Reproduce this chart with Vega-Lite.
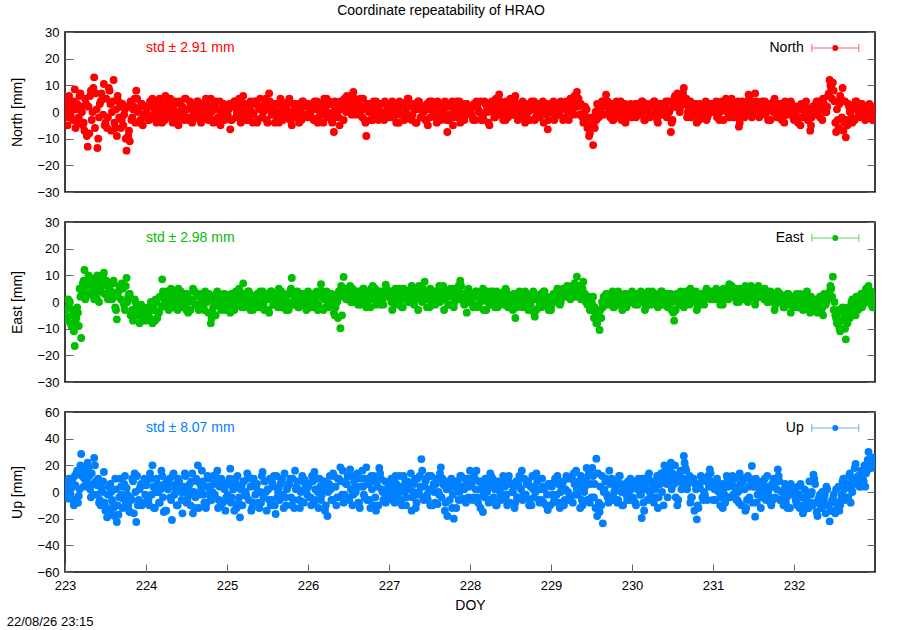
{
  "$schema": "https://vega.github.io/schema/vega-lite/v6.json",
  "padding": {"left": 5, "top": 4, "right": 0, "bottom": 0},
  "title": {"text": "Coordinate repeatability of HRAO", "fontSize": 14, "fontWeight": "normal", "anchor": "middle", "offset": 7},
  "data": {"values": [
    {"d":223.00,"n":5,"e":-5,"u":8},{"d":223.02,"n":0,"e":-7,"u":0},{"d":223.04,"n":-2,"e":1,"u":-5},{"d":223.06,"n":4,"e":0,"u":6},
    {"d":223.08,"n":3,"e":-9,"u":3},{"d":223.10,"n":-3,"e":-3,"u":-6},{"d":223.12,"n":8.5,"e":-16.5,"u":12},{"d":223.14,"n":1,"e":-6,"u":14},
    {"d":223.16,"n":-4,"e":-4,"u":-8},{"d":223.18,"n":6,"e":5,"u":2},{"d":223.20,"n":2,"e":-13.5,"u":28.5},{"d":223.22,"n":-5,"e":7,"u":18},
    {"d":223.24,"n":-7,"e":12,"u":10},{"d":223.26,"n":3,"e":2,"u":5},{"d":223.28,"n":-13,"e":3,"u":22},{"d":223.30,"n":-8,"e":9,"u":12},
    {"d":223.32,"n":8,"e":8,"u":-4},{"d":223.34,"n":0,"e":4,"u":-2},{"d":223.36,"n":13,"e":1,"u":25.5},{"d":223.38,"n":7,"e":6,"u":8},
    {"d":223.40,"n":-13.5,"e":10,"u":5},{"d":223.42,"n":-2,"e":0,"u":-8},{"d":223.44,"n":4,"e":4,"u":-10},{"d":223.46,"n":5,"e":8,"u":0},
    {"d":223.48,"n":10.5,"e":11,"u":15},{"d":223.50,"n":-4,"e":3,"u":-14},{"d":223.52,"n":-6,"e":6,"u":-19},{"d":223.54,"n":9,"e":5,"u":4},
    {"d":223.56,"n":3,"e":2,"u":6},{"d":223.58,"n":0,"e":1,"u":-6},{"d":223.60,"n":12,"e":8,"u":-12},{"d":223.62,"n":-6,"e":-2,"u":10},
    {"d":223.64,"n":-9,"e":-6.5,"u":-22.5},{"d":223.66,"n":4,"e":4,"u":-17},{"d":223.68,"n":2,"e":5,"u":10},{"d":223.70,"n":-3,"e":7,"u":-2},
    {"d":223.72,"n":-5,"e":0,"u":-5},{"d":223.74,"n":1,"e":-3,"u":12},{"d":223.76,"n":-14.5,"e":9,"u":3},{"d":223.78,"n":-9,"e":2,"u":-10},
    {"d":223.80,"n":-11,"e":3,"u":-15},{"d":223.84,"n":1,"e":-7,"u":8},{"d":223.88,"n":8,"e":-2,"u":-22.5},{"d":223.92,"n":-4,"e":-8,"u":2},
    {"d":223.96,"n":-5,"e":-4,"u":-8},
    {"d":224.00,"n":2,"e":-7,"u":5},{"d":224.04,"n":-3,"e":-2,"u":-10},{"d":224.08,"n":5,"e":-8,"u":20},{"d":224.12,"n":-1,"e":1,"u":0},
    {"d":224.16,"n":3,"e":-4,"u":-8},{"d":224.20,"n":-4,"e":8.5,"u":12},{"d":224.24,"n":6,"e":2,"u":-14},{"d":224.28,"n":0,"e":-3,"u":6},
    {"d":224.32,"n":-2,"e":4,"u":-21},{"d":224.36,"n":4,"e":0,"u":3},{"d":224.40,"n":-5,"e":5,"u":10},{"d":224.44,"n":1,"e":-2,"u":-6},
    {"d":224.48,"n":5,"e":3,"u":14},{"d":224.52,"n":-3,"e":-4,"u":-3},{"d":224.56,"n":2,"e":1,"u":8},{"d":224.60,"n":-1,"e":4,"u":-12},
    {"d":224.64,"n":4,"e":-1,"u":20},{"d":224.68,"n":-4,"e":3,"u":2},{"d":224.72,"n":3,"e":-3,"u":-8},{"d":224.76,"n":0,"e":2,"u":12},
    {"d":224.80,"n":5,"e":-8,"u":-4},{"d":224.84,"n":-3,"e":0,"u":6},{"d":224.88,"n":1,"e":4,"u":16},{"d":224.92,"n":-5,"e":-2,"u":-10},
    {"d":224.96,"n":3,"e":3,"u":3},
    {"d":225.00,"n":-2,"e":1,"u":-6},{"d":225.04,"n":-6.5,"e":-4,"u":17.5},{"d":225.08,"n":3,"e":3,"u":2},{"d":225.12,"n":0,"e":-1,"u":-12},
    {"d":225.16,"n":4,"e":4,"u":-19},{"d":225.20,"n":6,"e":7,"u":8},{"d":225.24,"n":-3,"e":0,"u":-3},{"d":225.28,"n":2,"e":3,"u":10},
    {"d":225.32,"n":-4,"e":-3,"u":-8},{"d":225.36,"n":4,"e":2,"u":4},{"d":225.40,"n":1,"e":-1,"u":-12},{"d":225.44,"n":-2,"e":4,"u":15},
    {"d":225.48,"n":5,"e":1,"u":0},{"d":225.52,"n":7,"e":-4,"u":-6},{"d":225.56,"n":-1,"e":3,"u":7},{"d":225.60,"n":3,"e":0,"u":-16.5},
    {"d":225.64,"n":-4,"e":5,"u":3},{"d":225.68,"n":2,"e":-2,"u":10},{"d":225.72,"n":-2,"e":2,"u":-4},{"d":225.76,"n":4,"e":-3,"u":6},
    {"d":225.80,"n":-5,"e":9,"u":-10},{"d":225.84,"n":1,"e":1,"u":16},{"d":225.88,"n":3,"e":-2,"u":2},{"d":225.92,"n":-3,"e":3,"u":-7},
    {"d":225.96,"n":2,"e":-1,"u":9},
    {"d":226.00,"n":3,"e":4,"u":4},{"d":226.04,"n":-2,"e":-2,"u":-10},{"d":226.08,"n":4,"e":2,"u":15},{"d":226.12,"n":-4,"e":-3,"u":0},
    {"d":226.16,"n":1,"e":6.7,"u":-6},{"d":226.20,"n":5,"e":1,"u":8},{"d":226.24,"n":-2,"e":-1,"u":-18},{"d":226.28,"n":3,"e":3,"u":2},
    {"d":226.32,"n":-7.5,"e":-4,"u":12},{"d":226.36,"n":0,"e":0,"u":-4},{"d":226.40,"n":4,"e":-9.8,"u":18.5},{"d":226.44,"n":-3,"e":9.4,"u":-8},
    {"d":226.48,"n":6,"e":3,"u":6},{"d":226.52,"n":2,"e":6,"u":17},{"d":226.56,"n":7.5,"e":0,"u":-2},{"d":226.60,"n":3,"e":4,"u":10},
    {"d":226.64,"n":-1,"e":1,"u":-12},{"d":226.68,"n":5,"e":5,"u":4},{"d":226.72,"n":-9,"e":-2,"u":18.5},{"d":226.76,"n":2,"e":3,"u":-6},
    {"d":226.80,"n":-3,"e":6,"u":8},{"d":226.84,"n":4,"e":-1,"u":-14},{"d":226.88,"n":0,"e":4,"u":18},{"d":226.92,"n":-2,"e":1,"u":0},
    {"d":226.96,"n":3,"e":6.5,"u":-8},
    {"d":227.00,"n":-2,"e":2,"u":6},{"d":227.04,"n":4,"e":-3,"u":-6},{"d":227.08,"n":0,"e":5,"u":12},{"d":227.12,"n":-4,"e":1,"u":0},
    {"d":227.16,"n":3,"e":-2,"u":-10},{"d":227.20,"n":-1,"e":4,"u":8},{"d":227.24,"n":5,"e":0,"u":2},{"d":227.28,"n":-3,"e":6,"u":-14},
    {"d":227.32,"n":1,"e":2,"u":10},{"d":227.36,"n":4,"e":-3,"u":-2},{"d":227.40,"n":-2,"e":3,"u":24.7},{"d":227.44,"n":2,"e":7.6,"u":4},
    {"d":227.48,"n":-5,"e":1,"u":-6},{"d":227.52,"n":3,"e":-1,"u":12},{"d":227.56,"n":0,"e":4,"u":0},{"d":227.60,"n":4,"e":0,"u":-9},
    {"d":227.64,"n":-3,"e":5,"u":18.5},{"d":227.68,"n":1,"e":-3,"u":5},{"d":227.72,"n":-7.5,"e":2,"u":-18},{"d":227.76,"n":2,"e":5,"u":7},
    {"d":227.80,"n":-2,"e":-2,"u":-20},{"d":227.84,"n":4,"e":3,"u":3},{"d":227.88,"n":-4,"e":8,"u":12},{"d":227.92,"n":1,"e":0,"u":-5},
    {"d":227.96,"n":3,"e":-4,"u":8},
    {"d":228.00,"n":2,"e":3,"u":16},{"d":228.04,"n":-3,"e":-2,"u":-4},{"d":228.08,"n":4,"e":4,"u":16},{"d":228.12,"n":0,"e":0,"u":2},
    {"d":228.16,"n":-2,"e":5,"u":-15},{"d":228.20,"n":3,"e":-3,"u":6},{"d":228.24,"n":-5,"e":2,"u":-6},{"d":228.28,"n":2,"e":4,"u":10},
    {"d":228.32,"n":5,"e":-1,"u":-10},{"d":228.36,"n":6.6,"e":3,"u":3},{"d":228.40,"n":0,"e":0,"u":8},{"d":228.44,"n":-3,"e":5,"u":-5},
    {"d":228.48,"n":4,"e":-2,"u":12},{"d":228.52,"n":1,"e":2,"u":0},{"d":228.56,"n":6,"e":-6,"u":-8},{"d":228.60,"n":-2,"e":3,"u":5},
    {"d":228.64,"n":3,"e":0,"u":16},{"d":228.68,"n":-4,"e":4,"u":-3},{"d":228.72,"n":0,"e":-3,"u":8},{"d":228.76,"n":4,"e":1,"u":-10},
    {"d":228.80,"n":-3,"e":-5.5,"u":4},{"d":228.84,"n":2,"e":2,"u":10},{"d":228.88,"n":-1,"e":-2,"u":-6},{"d":228.92,"n":3,"e":4,"u":2},
    {"d":228.96,"n":-6.5,"e":0,"u":-13.5},
    {"d":229.00,"n":3,"e":-3,"u":6},{"d":229.04,"n":-3,"e":2,"u":-6},{"d":229.08,"n":1,"e":5,"u":12},{"d":229.12,"n":4,"e":0,"u":0},
    {"d":229.16,"n":-2,"e":3,"u":-10},{"d":229.20,"n":2,"e":6,"u":10},{"d":229.24,"n":5,"e":1,"u":-4},{"d":229.28,"n":-1,"e":4,"u":14},
    {"d":229.32,"n":7.5,"e":9.5,"u":2},{"d":229.36,"n":3,"e":3,"u":-12},{"d":229.40,"n":-4,"e":7.6,"u":8},{"d":229.44,"n":1,"e":0,"u":18},
    {"d":229.48,"n":-8,"e":-3,"u":-8},{"d":229.52,"n":-12.4,"e":2,"u":12},{"d":229.56,"n":-3,"e":-8,"u":25},{"d":229.60,"n":2,"e":-10.5,"u":-15},
    {"d":229.64,"n":4,"e":-2,"u":-23.5},{"d":229.68,"n":6.5,"e":3,"u":10},{"d":229.72,"n":0,"e":-1,"u":16},{"d":229.76,"n":-3,"e":4,"u":-6},
    {"d":229.80,"n":3,"e":0,"u":4},{"d":229.84,"n":-1,"e":2,"u":12},{"d":229.88,"n":2,"e":-3,"u":-10},{"d":229.92,"n":-4,"e":3,"u":6},
    {"d":229.96,"n":1,"e":1,"u":-2},
    {"d":230.00,"n":-2,"e":4,"u":5},{"d":230.04,"n":3,"e":-1,"u":-8},{"d":230.08,"n":0,"e":3,"u":10},{"d":230.12,"n":4,"e":1,"u":-19.5},
    {"d":230.16,"n":-3,"e":-3,"u":2},{"d":230.20,"n":2,"e":4,"u":12},{"d":230.24,"n":-1,"e":0,"u":-6},{"d":230.28,"n":4,"e":2,"u":8},
    {"d":230.32,"n":-4,"e":-2,"u":-12},{"d":230.36,"n":1,"e":4,"u":14},{"d":230.40,"n":3,"e":1,"u":20},{"d":230.44,"n":-2,"e":-2,"u":-4},
    {"d":230.48,"n":-7.5,"e":3,"u":22},{"d":230.52,"n":5,"e":-7,"u":6},{"d":230.56,"n":7,"e":0,"u":-10},{"d":230.60,"n":2,"e":4,"u":16},
    {"d":230.64,"n":9,"e":-2,"u":27},{"d":230.68,"n":-2,"e":2,"u":2},{"d":230.72,"n":4,"e":5,"u":-8},{"d":230.76,"n":0,"e":1,"u":10},
    {"d":230.80,"n":-4,"e":-3,"u":-20.5},{"d":230.84,"n":3,"e":3,"u":3},{"d":230.88,"n":1,"e":0,"u":-6},{"d":230.92,"n":-3,"e":5,"u":8},
    {"d":230.96,"n":2,"e":2,"u":17},
    {"d":231.00,"n":0,"e":1,"u":-6},{"d":231.04,"n":4,"e":5,"u":8},{"d":231.08,"n":-3,"e":2,"u":0},{"d":231.12,"n":2,"e":-1,"u":-12},
    {"d":231.16,"n":5,"e":4,"u":6},{"d":231.20,"n":-2,"e":6.7,"u":-4},{"d":231.24,"n":3,"e":2,"u":12},{"d":231.28,"n":0,"e":5,"u":2},
    {"d":231.32,"n":-5.5,"e":0,"u":-8},{"d":231.36,"n":4,"e":3,"u":10},{"d":231.40,"n":1,"e":6,"u":-14},{"d":231.44,"n":6.5,"e":1,"u":4},
    {"d":231.48,"n":-2,"e":4,"u":19.5},{"d":231.52,"n":7,"e":-1,"u":-18.5},{"d":231.56,"n":3,"e":6,"u":6},{"d":231.60,"n":-1,"e":3,"u":-4},
    {"d":231.64,"n":4,"e":5,"u":10},{"d":231.68,"n":-3,"e":0,"u":0},{"d":231.72,"n":2,"e":2,"u":-10},{"d":231.76,"n":5,"e":-3,"u":4},
    {"d":231.80,"n":-2,"e":4,"u":17},{"d":231.84,"n":3,"e":1,"u":-6},{"d":231.88,"n":-4,"e":-2,"u":2},{"d":231.92,"n":1,"e":3,"u":-12},
    {"d":231.96,"n":4,"e":-4,"u":6},
    {"d":232.00,"n":-3,"e":2,"u":2},{"d":232.04,"n":2,"e":-2,"u":-10},{"d":232.08,"n":-5,"e":3,"u":6},{"d":232.12,"n":3,"e":0,"u":-14},
    {"d":232.16,"n":-1,"e":4,"u":0},{"d":232.20,"n":-7,"e":-4,"u":-8},{"d":232.24,"n":2,"e":1,"u":13},{"d":232.28,"n":4,"e":-3,"u":-15},
    {"d":232.32,"n":-2,"e":2,"u":-2},{"d":232.36,"n":5,"e":-5,"u":-10},{"d":232.40,"n":0,"e":0,"u":4},{"d":232.44,"n":12,"e":4,"u":-22},
    {"d":232.48,"n":11,"e":9.5,"u":-6},{"d":232.52,"n":-7.5,"e":-6,"u":2},{"d":232.56,"n":3,"e":-9.7,"u":-14},{"d":232.60,"n":9,"e":-2,"u":8},
    {"d":232.64,"n":-9.5,"e":-14,"u":-4},{"d":232.68,"n":2,"e":-4,"u":12},{"d":232.72,"n":-4,"e":1,"u":0},{"d":232.76,"n":4,"e":-5,"u":21},
    {"d":232.80,"n":-1,"e":2,"u":6},{"d":232.84,"n":3,"e":-2,"u":14},{"d":232.88,"n":-3,"e":4,"u":4},{"d":232.92,"n":2,"e":6,"u":30},
    {"d":232.96,"n":-1,"e":-1,"u":18},
    {"d":223.82,"n":-3,"e":-5,"u":-6},{"d":223.86,"n":5,"e":1,"u":14},{"d":223.90,"n":0,"e":-4,"u":-10},{"d":223.94,"n":3,"e":-1,"u":6},{"d":223.98,"n":-2,"e":-6,"u":10},
    {"d":224.02,"n":-1,"e":-5,"u":-3},{"d":224.06,"n":2,"e":0,"u":10},{"d":224.10,"n":4,"e":-3,"u":-12},{"d":224.14,"n":-3,"e":-6,"u":6},
    {"d":224.18,"n":0,"e":2,"u":2},{"d":224.22,"n":3,"e":-1,"u":-15},{"d":224.26,"n":-2,"e":4,"u":8},{"d":224.30,"n":5,"e":1,"u":-4},
    {"d":224.34,"n":1,"e":-2,"u":14},{"d":224.38,"n":-4,"e":2,"u":-10},{"d":224.42,"n":3,"e":3,"u":4},{"d":224.46,"n":0,"e":0,"u":0},
    {"d":224.50,"n":-2,"e":-3,"u":-8},{"d":224.54,"n":4,"e":1,"u":6},{"d":224.58,"n":-3,"e":5,"u":-16},{"d":224.62,"n":1,"e":-1,"u":10},
    {"d":224.66,"n":2,"e":2,"u":-2},{"d":224.70,"n":-1,"e":-2,"u":8},{"d":224.74,"n":5,"e":0,"u":-12},{"d":224.78,"n":-2,"e":3,"u":4},
    {"d":224.82,"n":2,"e":-4,"u":0},{"d":224.86,"n":4,"e":-5,"u":12},{"d":224.90,"n":-4,"e":1,"u":-6},{"d":224.94,"n":0,"e":2,"u":8},
    {"d":224.98,"n":-1,"e":-3,"u":-14},
    {"d":225.02,"n":1,"e":-2,"u":6},{"d":225.06,"n":-3,"e":2,"u":-4},{"d":225.10,"n":4,"e":0,"u":10},{"d":225.14,"n":2,"e":3,"u":-8},
    {"d":225.18,"n":-2,"e":-2,"u":4},{"d":225.22,"n":3,"e":1,"u":-2},{"d":225.26,"n":0,"e":4,"u":12},{"d":225.30,"n":-1,"e":-1,"u":-14},
    {"d":225.34,"n":4,"e":2,"u":6},{"d":225.38,"n":-3,"e":0,"u":0},{"d":225.42,"n":2,"e":3,"u":-8},{"d":225.46,"n":1,"e":-3,"u":8},
    {"d":225.50,"n":-4,"e":1,"u":2},{"d":225.54,"n":3,"e":4,"u":-10},{"d":225.58,"n":0,"e":-1,"u":12},{"d":225.62,"n":-2,"e":2,"u":-4},
    {"d":225.66,"n":5,"e":-2,"u":6},{"d":225.70,"n":-1,"e":3,"u":-12},{"d":225.74,"n":1,"e":0,"u":2},{"d":225.78,"n":-3,"e":4,"u":10},
    {"d":225.82,"n":3,"e":-1,"u":-6},{"d":225.86,"n":0,"e":3,"u":4},{"d":225.90,"n":-2,"e":0,"u":-12},{"d":225.94,"n":4,"e":2,"u":8},
    {"d":225.98,"n":-1,"e":-3,"u":0},
    {"d":226.02,"n":0,"e":0,"u":-4},{"d":226.06,"n":2,"e":3,"u":8},{"d":226.10,"n":-3,"e":-1,"u":-6},{"d":226.14,"n":3,"e":2,"u":10},
    {"d":226.18,"n":-1,"e":4,"u":2},{"d":226.22,"n":1,"e":-2,"u":-10},{"d":226.26,"n":4,"e":3,"u":6},{"d":226.30,"n":-4,"e":0,"u":-6},
    {"d":226.34,"n":2,"e":-2,"u":4},{"d":226.38,"n":-2,"e":4,"u":10},{"d":226.42,"n":3,"e":-5,"u":-2},{"d":226.46,"n":1,"e":5,"u":8},
    {"d":226.50,"n":4,"e":1,"u":-4},{"d":226.54,"n":-1,"e":4,"u":12},{"d":226.58,"n":5,"e":2,"u":4},{"d":226.62,"n":0,"e":-1,"u":-8},
    {"d":226.66,"n":2,"e":4,"u":10},{"d":226.70,"n":-3,"e":2,"u":-4},{"d":226.74,"n":3,"e":0,"u":6},{"d":226.78,"n":0,"e":5,"u":12},
    {"d":226.82,"n":1,"e":1,"u":-10},{"d":226.86,"n":-2,"e":3,"u":4},{"d":226.90,"n":3,"e":-1,"u":10},{"d":226.94,"n":-3,"e":4,"u":-6},
    {"d":226.98,"n":1,"e":3,"u":2},
    {"d":227.02,"n":1,"e":4,"u":-2},{"d":227.06,"n":-2,"e":1,"u":8},{"d":227.10,"n":3,"e":3,"u":-6},{"d":227.14,"n":-1,"e":-1,"u":4},
    {"d":227.18,"n":2,"e":5,"u":12},{"d":227.22,"n":4,"e":2,"u":-4},{"d":227.26,"n":-2,"e":3,"u":6},{"d":227.30,"n":2,"e":0,"u":0},
    {"d":227.34,"n":-4,"e":4,"u":-8},{"d":227.38,"n":3,"e":1,"u":12},{"d":227.42,"n":0,"e":5,"u":-4},{"d":227.46,"n":-3,"e":3,"u":10},
    {"d":227.50,"n":4,"e":-2,"u":2},{"d":227.54,"n":1,"e":4,"u":-10},{"d":227.58,"n":-2,"e":2,"u":6},{"d":227.62,"n":3,"e":6,"u":-2},
    {"d":227.66,"n":-1,"e":1,"u":10},{"d":227.70,"n":2,"e":3,"u":-8},{"d":227.74,"n":-3,"e":-1,"u":2},{"d":227.78,"n":4,"e":4,"u":-12},
    {"d":227.82,"n":0,"e":1,"u":8},{"d":227.86,"n":-2,"e":6,"u":-6},{"d":227.90,"n":3,"e":3,"u":4},{"d":227.94,"n":-1,"e":2,"u":10},
    {"d":227.98,"n":2,"e":5,"u":-4},
    {"d":228.02,"n":-1,"e":1,"u":6},{"d":228.06,"n":3,"e":3,"u":10},{"d":228.10,"n":1,"e":-1,"u":-8},{"d":228.14,"n":-3,"e":2,"u":8},
    {"d":228.18,"n":4,"e":3,"u":-4},{"d":228.22,"n":0,"e":0,"u":2},{"d":228.26,"n":3,"e":4,"u":12},{"d":228.30,"n":-2,"e":2,"u":-6},
    {"d":228.34,"n":1,"e":-2,"u":4},{"d":228.38,"n":4,"e":1,"u":-2},{"d":228.42,"n":-2,"e":4,"u":10},{"d":228.46,"n":2,"e":2,"u":-10},
    {"d":228.50,"n":5,"e":0,"u":6},{"d":228.54,"n":-1,"e":3,"u":4},{"d":228.58,"n":3,"e":-2,"u":-4},{"d":228.62,"n":1,"e":1,"u":10},
    {"d":228.66,"n":-2,"e":3,"u":-2},{"d":228.70,"n":2,"e":-1,"u":6},{"d":228.74,"n":-3,"e":2,"u":-6},{"d":228.78,"n":3,"e":4,"u":2},
    {"d":228.82,"n":0,"e":-3,"u":14},{"d":228.86,"n":-2,"e":0,"u":-8},{"d":228.90,"n":4,"e":3,"u":4},{"d":228.94,"n":-1,"e":1,"u":-10},
    {"d":228.98,"n":2,"e":-2,"u":6},
    {"d":229.02,"n":0,"e":0,"u":-2},{"d":229.06,"n":2,"e":3,"u":8},{"d":229.10,"n":-1,"e":1,"u":-8},{"d":229.14,"n":3,"e":4,"u":6},
    {"d":229.18,"n":1,"e":2,"u":2},{"d":229.22,"n":-3,"e":3,"u":-6},{"d":229.26,"n":4,"e":5,"u":10},{"d":229.30,"n":2,"e":2,"u":-2},
    {"d":229.34,"n":5,"e":6,"u":8},{"d":229.38,"n":-1,"e":5,"u":-6},{"d":229.42,"n":2,"e":3,"u":4},{"d":229.46,"n":-2,"e":2,"u":12},
    {"d":229.50,"n":-5,"e":0,"u":-4},{"d":229.54,"n":-6,"e":-2,"u":6},{"d":229.58,"n":1,"e":-5,"u":14},{"d":229.62,"n":-1,"e":-6,"u":-10},
    {"d":229.66,"n":3,"e":1,"u":2},{"d":229.70,"n":4,"e":0,"u":-4},{"d":229.74,"n":2,"e":2,"u":8},{"d":229.78,"n":0,"e":-2,"u":0},
    {"d":229.82,"n":-2,"e":3,"u":-8},{"d":229.86,"n":4,"e":1,"u":6},{"d":229.90,"n":-1,"e":2,"u":2},{"d":229.94,"n":1,"e":-1,"u":-6},
    {"d":229.98,"n":3,"e":3,"u":10},
    {"d":230.02,"n":1,"e":1,"u":-6},{"d":230.06,"n":-1,"e":2,"u":6},{"d":230.10,"n":2,"e":0,"u":-2},{"d":230.14,"n":0,"e":3,"u":-8},
    {"d":230.18,"n":3,"e":0,"u":8},{"d":230.22,"n":-2,"e":2,"u":0},{"d":230.26,"n":2,"e":3,"u":4},{"d":230.30,"n":0,"e":-1,"u":-4},
    {"d":230.34,"n":3,"e":2,"u":6},{"d":230.38,"n":-1,"e":0,"u":10},{"d":230.42,"n":4,"e":3,"u":12},{"d":230.46,"n":0,"e":1,"u":8},
    {"d":230.50,"n":-3,"e":0,"u":14},{"d":230.54,"n":2,"e":-3,"u":-4},{"d":230.58,"n":4,"e":2,"u":10},{"d":230.62,"n":5,"e":1,"u":6},
    {"d":230.66,"n":3,"e":3,"u":18},{"d":230.70,"n":2,"e":0,"u":10},{"d":230.74,"n":0,"e":3,"u":-4},{"d":230.78,"n":3,"e":2,"u":6},
    {"d":230.82,"n":-2,"e":0,"u":-12},{"d":230.86,"n":0,"e":1,"u":8},{"d":230.90,"n":2,"e":3,"u":-2},{"d":230.94,"n":-1,"e":2,"u":12},
    {"d":230.98,"n":3,"e":4,"u":4},
    {"d":231.02,"n":2,"e":3,"u":2},{"d":231.06,"n":-1,"e":4,"u":4},{"d":231.10,"n":1,"e":0,"u":-4},{"d":231.14,"n":3,"e":2,"u":-2},
    {"d":231.18,"n":0,"e":5,"u":10},{"d":231.22,"n":4,"e":3,"u":6},{"d":231.26,"n":1,"e":4,"u":4},{"d":231.30,"n":-2,"e":2,"u":-6},
    {"d":231.34,"n":-1,"e":3,"u":6},{"d":231.38,"n":2,"e":1,"u":2},{"d":231.42,"n":4,"e":4,"u":-6},{"d":231.46,"n":3,"e":3,"u":10},
    {"d":231.50,"n":2,"e":2,"u":4},{"d":231.54,"n":4,"e":4,"u":-8},{"d":231.58,"n":0,"e":3,"u":2},{"d":231.62,"n":2,"e":4,"u":6},
    {"d":231.66,"n":1,"e":2,"u":4},{"d":231.70,"n":3,"e":3,"u":-4},{"d":231.74,"n":0,"e":0,"u":-6},{"d":231.78,"n":2,"e":1,"u":10},
    {"d":231.82,"n":3,"e":3,"u":8},{"d":231.86,"n":0,"e":2,"u":0},{"d":231.90,"n":-1,"e":0,"u":-8},{"d":231.94,"n":3,"e":1,"u":-2},
    {"d":231.98,"n":1,"e":0,"u":0},
    {"d":232.02,"n":0,"e":0,"u":-6},{"d":232.06,"n":-2,"e":1,"u":-2},{"d":232.10,"n":1,"e":-1,"u":-10},{"d":232.14,"n":2,"e":2,"u":-4},
    {"d":232.18,"n":-3,"e":0,"u":-12},{"d":232.22,"n":-2,"e":1,"u":0},{"d":232.26,"n":0,"e":-2,"u":6},{"d":232.30,"n":3,"e":0,"u":-6},
    {"d":232.34,"n":1,"e":-3,"u":-12},{"d":232.38,"n":2,"e":-1,"u":-2},{"d":232.42,"n":6,"e":2,"u":-10},{"d":232.46,"n":9,"e":5,"u":-14},
    {"d":232.50,"n":4,"e":0,"u":-8},{"d":232.54,"n":-3,"e":-4,"u":-12},{"d":232.58,"n":5,"e":-7,"u":-6},{"d":232.62,"n":-4,"e":-6,"u":2},
    {"d":232.66,"n":-5,"e":-8,"u":6},{"d":232.70,"n":0,"e":-3,"u":-8},{"d":232.74,"n":2,"e":-2,"u":6},{"d":232.78,"n":1,"e":-1,"u":10},
    {"d":232.82,"n":2,"e":0,"u":4},{"d":232.86,"n":0,"e":1,"u":8},{"d":232.90,"n":1,"e":2,"u":16},{"d":232.94,"n":-2,"e":3,"u":20},
    {"d":232.98,"n":2,"e":1,"u":25},
    {"d":223.01,"n":2,"e":-3,"u":3},{"d":223.03,"n":-5,"e":-6,"u":-4},{"d":223.05,"n":6,"e":-2,"u":10},{"d":223.07,"n":-1,"e":-8,"u":-2},{"d":223.09,"n":1,"e":-5,"u":8},
    {"d":223.11,"n":4,"e":-11,"u":-10},{"d":223.13,"n":-6,"e":-7,"u":5},{"d":223.15,"n":3,"e":-2,"u":16},{"d":223.17,"n":-2,"e":-9,"u":-3},{"d":223.19,"n":7,"e":2,"u":20},
    {"d":223.21,"n":0,"e":4,"u":12},{"d":223.23,"n":-4,"e":8,"u":4},{"d":223.25,"n":5,"e":1,"u":15},{"d":223.27,"n":-9,"e":6,"u":8},{"d":223.29,"n":2,"e":10,"u":18},
    {"d":223.31,"n":6,"e":3,"u":2},{"d":223.33,"n":-3,"e":7,"u":14},{"d":223.35,"n":9,"e":5,"u":6},{"d":223.37,"n":-6,"e":9,"u":20},{"d":223.39,"n":1,"e":2,"u":-2},
    {"d":223.41,"n":-10,"e":7,"u":10},{"d":223.43,"n":3,"e":4,"u":-6},{"d":223.45,"n":7,"e":6,"u":3},{"d":223.47,"n":-1,"e":9,"u":8},{"d":223.49,"n":-5,"e":3,"u":-8},
    {"d":223.51,"n":5,"e":8,"u":-12},{"d":223.53,"n":-2,"e":1,"u":-2},{"d":223.55,"n":8,"e":5,"u":-16},{"d":223.57,"n":-7,"e":4,"u":0},{"d":223.59,"n":4,"e":7,"u":-8},
    {"d":223.61,"n":-4,"e":2,"u":-18},{"d":223.63,"n":1,"e":-3,"u":2},{"d":223.65,"n":6,"e":3,"u":-10},{"d":223.67,"n":-2,"e":6,"u":-4},{"d":223.69,"n":-6,"e":1,"u":4},
    {"d":223.71,"n":3,"e":5,"u":-12},{"d":223.73,"n":-1,"e":-1,"u":6},{"d":223.75,"n":-10,"e":6,"u":-8},{"d":223.77,"n":2,"e":0,"u":-2},{"d":223.79,"n":-7,"e":3,"u":-14},
    {"d":223.81,"n":4,"e":-5,"u":-4},{"d":223.83,"n":-2,"e":-3,"u":10},{"d":223.85,"n":2,"e":-6,"u":-16},{"d":223.87,"n":-4,"e":0,"u":0},{"d":223.89,"n":5,"e":-2,"u":12},
    {"d":223.91,"n":1,"e":-5,"u":-6},{"d":223.93,"n":-3,"e":-3,"u":4},{"d":223.95,"n":3,"e":-7,"u":-10},{"d":223.97,"n":-1,"e":-2,"u":6},{"d":223.99,"n":2,"e":-4,"u":-2},
    {"d":224.01,"n":1,"e":-5,"u":8},{"d":224.03,"n":-3,"e":-2,"u":-6},{"d":224.05,"n":4,"e":-6,"u":14},{"d":224.07,"n":-2,"e":-3,"u":-2},{"d":224.09,"n":3,"e":-1,"u":4},
    {"d":224.11,"n":0,"e":-7,"u":-12},{"d":224.13,"n":-4,"e":0,"u":10},{"d":224.15,"n":2,"e":-4,"u":0},{"d":224.17,"n":5,"e":2,"u":-8},{"d":224.19,"n":-1,"e":-2,"u":16},
    {"d":224.21,"n":3,"e":4,"u":-4},{"d":224.23,"n":-3,"e":1,"u":6},{"d":224.25,"n":1,"e":3,"u":-14},{"d":224.27,"n":4,"e":-1,"u":2},{"d":224.29,"n":-2,"e":2,"u":10},
    {"d":224.31,"n":2,"e":5,"u":-6},{"d":224.33,"n":-4,"e":-2,"u":12},{"d":224.35,"n":3,"e":1,"u":-2},{"d":224.37,"n":0,"e":3,"u":6},{"d":224.39,"n":-2,"e":-3,"u":-10},
    {"d":224.41,"n":4,"e":0,"u":8},{"d":224.43,"n":-1,"e":4,"u":0},{"d":224.45,"n":2,"e":-1,"u":-16},{"d":224.47,"n":-3,"e":2,"u":4},{"d":224.49,"n":5,"e":-2,"u":12},
    {"d":224.51,"n":1,"e":3,"u":-6},{"d":224.53,"n":-2,"e":0,"u":2},{"d":224.55,"n":3,"e":-3,"u":-10},{"d":224.57,"n":-4,"e":1,"u":14},{"d":224.59,"n":0,"e":4,"u":0},
    {"d":224.61,"n":2,"e":-1,"u":-4},{"d":224.63,"n":4,"e":2,"u":8},{"d":224.65,"n":-1,"e":-3,"u":-12},{"d":224.67,"n":-3,"e":3,"u":6},{"d":224.69,"n":3,"e":1,"u":16},
    {"d":224.71,"n":1,"e":-2,"u":-2},{"d":224.73,"n":-2,"e":4,"u":4},{"d":224.75,"n":4,"e":0,"u":-8},{"d":224.77,"n":-3,"e":-4,"u":10},{"d":224.79,"n":2,"e":2,"u":0},
    {"d":224.81,"n":0,"e":-6,"u":-6},{"d":224.83,"n":-4,"e":-2,"u":12},{"d":224.85,"n":3,"e":1,"u":-2},{"d":224.87,"n":1,"e":3,"u":8},{"d":224.89,"n":-2,"e":-1,"u":-12},
    {"d":224.91,"n":4,"e":2,"u":4},{"d":224.93,"n":-1,"e":-3,"u":10},{"d":224.95,"n":2,"e":0,"u":-8},{"d":224.97,"n":-3,"e":3,"u":2},{"d":224.99,"n":1,"e":-1,"u":-4},
    {"d":225.01,"n":-1,"e":2,"u":-2},{"d":225.03,"n":3,"e":-2,"u":10},{"d":225.05,"n":-3,"e":3,"u":-8},{"d":225.07,"n":2,"e":0,"u":4},{"d":225.09,"n":4,"e":-3,"u":-14},
    {"d":225.11,"n":-2,"e":4,"u":6},{"d":225.13,"n":1,"e":1,"u":12},{"d":225.15,"n":5,"e":5,"u":-4},{"d":225.17,"n":-4,"e":-1,"u":2},{"d":225.19,"n":0,"e":2,"u":-10},
    {"d":225.21,"n":3,"e":-2,"u":8},{"d":225.23,"n":-2,"e":3,"u":0},{"d":225.25,"n":2,"e":0,"u":14},{"d":225.27,"n":-3,"e":4,"u":-6},{"d":225.29,"n":4,"e":-3,"u":4},
    {"d":225.31,"n":0,"e":1,"u":-12},{"d":225.33,"n":-1,"e":2,"u":10},{"d":225.35,"n":3,"e":-1,"u":-2},{"d":225.37,"n":-4,"e":3,"u":6},{"d":225.39,"n":2,"e":-2,"u":-8},
    {"d":225.41,"n":5,"e":4,"u":0},{"d":225.43,"n":-2,"e":0,"u":12},{"d":225.45,"n":0,"e":-1,"u":-4},{"d":225.47,"n":3,"e":3,"u":8},{"d":225.49,"n":-3,"e":1,"u":-14},
    {"d":225.51,"n":1,"e":-3,"u":2},{"d":225.53,"n":4,"e":2,"u":10},{"d":225.55,"n":-1,"e":4,"u":-6},{"d":225.57,"n":2,"e":-1,"u":4},{"d":225.59,"n":-4,"e":0,"u":-10},
    {"d":225.61,"n":3,"e":3,"u":12},{"d":225.63,"n":0,"e":-2,"u":0},{"d":225.65,"n":-2,"e":1,"u":-6},{"d":225.67,"n":4,"e":4,"u":8},{"d":225.69,"n":-3,"e":-1,"u":-2},
    {"d":225.71,"n":1,"e":2,"u":14},{"d":225.73,"n":2,"e":-3,"u":-10},{"d":225.75,"n":-1,"e":0,"u":4},{"d":225.77,"n":5,"e":3,"u":6},{"d":225.79,"n":-3,"e":5,"u":-4},
    {"d":225.81,"n":0,"e":-1,"u":10},{"d":225.83,"n":3,"e":2,"u":-12},{"d":225.85,"n":-2,"e":0,"u":2},{"d":225.87,"n":2,"e":4,"u":8},{"d":225.89,"n":-4,"e":-2,"u":-6},
    {"d":225.91,"n":1,"e":1,"u":0},{"d":225.93,"n":4,"e":3,"u":12},{"d":225.95,"n":-1,"e":-1,"u":-8},{"d":225.97,"n":3,"e":2,"u":4},{"d":225.99,"n":-2,"e":0,"u":-2},
    {"d":226.01,"n":2,"e":1,"u":6},{"d":226.03,"n":-1,"e":3,"u":-4},{"d":226.05,"n":3,"e":-2,"u":12},{"d":226.07,"n":-3,"e":2,"u":-8},{"d":226.09,"n":1,"e":0,"u":2},
    {"d":226.11,"n":4,"e":4,"u":10},{"d":226.13,"n":-2,"e":-1,"u":-12},{"d":226.15,"n":0,"e":3,"u":4},{"d":226.17,"n":3,"e":2,"u":-2},{"d":226.19,"n":-4,"e":-3,"u":8},
    {"d":226.21,"n":2,"e":1,"u":-14},{"d":226.23,"n":5,"e":4,"u":6},{"d":226.25,"n":-1,"e":-2,"u":0},{"d":226.27,"n":3,"e":0,"u":12},{"d":226.29,"n":-3,"e":3,"u":-6},
    {"d":226.31,"n":0,"e":-1,"u":14},{"d":226.33,"n":4,"e":-5,"u":4},{"d":226.35,"n":-2,"e":2,"u":-10},{"d":226.37,"n":2,"e":-6,"u":10},{"d":226.39,"n":-5,"e":4,"u":-4},
    {"d":226.41,"n":1,"e":6,"u":8},{"d":226.43,"n":3,"e":2,"u":16},{"d":226.45,"n":5,"e":5,"u":-2},{"d":226.47,"n":0,"e":1,"u":6},{"d":226.49,"n":4,"e":4,"u":12},
    {"d":226.51,"n":2,"e":3,"u":-6},{"d":226.53,"n":6,"e":0,"u":2},{"d":226.55,"n":1,"e":5,"u":-10},{"d":226.57,"n":4,"e":2,"u":8},{"d":226.59,"n":-1,"e":3,"u":0},
    {"d":226.61,"n":3,"e":1,"u":14},{"d":226.63,"n":0,"e":4,"u":-8},{"d":226.65,"n":5,"e":-1,"u":4},{"d":226.67,"n":-2,"e":2,"u":16},{"d":226.69,"n":1,"e":5,"u":-2},
    {"d":226.71,"n":-4,"e":0,"u":10},{"d":226.73,"n":3,"e":3,"u":-6},{"d":226.75,"n":0,"e":1,"u":6},{"d":226.77,"n":-3,"e":-2,"u":-12},{"d":226.79,"n":2,"e":4,"u":2},
    {"d":226.81,"n":4,"e":2,"u":12},{"d":226.83,"n":-1,"e":5,"u":-4},{"d":226.85,"n":1,"e":0,"u":8},{"d":226.87,"n":-3,"e":3,"u":-10},{"d":226.89,"n":3,"e":1,"u":14},
    {"d":226.91,"n":0,"e":4,"u":2},{"d":226.93,"n":-2,"e":-1,"u":-6},{"d":226.95,"n":4,"e":3,"u":8},{"d":226.97,"n":-1,"e":5,"u":-2},{"d":226.99,"n":2,"e":2,"u":4},
    {"d":227.01,"n":0,"e":3,"u":-4},{"d":227.03,"n":3,"e":0,"u":10},{"d":227.05,"n":-2,"e":4,"u":2},{"d":227.07,"n":2,"e":1,"u":-8},{"d":227.09,"n":-4,"e":-1,"u":6},
    {"d":227.11,"n":1,"e":3,"u":-2},{"d":227.13,"n":4,"e":5,"u":12},{"d":227.15,"n":-1,"e":2,"u":-6},{"d":227.17,"n":3,"e":-2,"u":4},{"d":227.19,"n":-3,"e":4,"u":0},
    {"d":227.21,"n":0,"e":1,"u":-10},{"d":227.23,"n":5,"e":3,"u":8},{"d":227.25,"n":-2,"e":0,"u":2},{"d":227.27,"n":2,"e":5,"u":14},{"d":227.29,"n":-1,"e":2,"u":-4},
    {"d":227.31,"n":3,"e":-1,"u":6},{"d":227.33,"n":-4,"e":4,"u":-12},{"d":227.35,"n":1,"e":2,"u":10},{"d":227.37,"n":4,"e":6,"u":0},{"d":227.39,"n":-2,"e":3,"u":4},
    {"d":227.41,"n":2,"e":0,"u":16},{"d":227.43,"n":0,"e":4,"u":-6},{"d":227.45,"n":-3,"e":1,"u":8},{"d":227.47,"n":3,"e":-2,"u":-2},{"d":227.49,"n":1,"e":3,"u":12},
    {"d":227.51,"n":-2,"e":5,"u":-10},{"d":227.53,"n":4,"e":1,"u":2},{"d":227.55,"n":-1,"e":2,"u":6},{"d":227.57,"n":2,"e":-1,"u":-8},{"d":227.59,"n":-4,"e":4,"u":10},
    {"d":227.61,"n":3,"e":2,"u":0},{"d":227.63,"n":0,"e":0,"u":14},{"d":227.65,"n":-2,"e":3,"u":-4},{"d":227.67,"n":1,"e":6,"u":6},{"d":227.69,"n":4,"e":1,"u":-14},
    {"d":227.71,"n":-3,"e":4,"u":2},{"d":227.73,"n":2,"e":-1,"u":8},{"d":227.75,"n":-1,"e":3,"u":-6},{"d":227.77,"n":3,"e":2,"u":10},{"d":227.79,"n":-5,"e":5,"u":-2},
    {"d":227.81,"n":0,"e":0,"u":4},{"d":227.83,"n":2,"e":3,"u":-12},{"d":227.85,"n":-2,"e":1,"u":8},{"d":227.87,"n":4,"e":4,"u":0},{"d":227.89,"n":-1,"e":6,"u":12},
    {"d":227.91,"n":1,"e":2,"u":-6},{"d":227.93,"n":-3,"e":-1,"u":2},{"d":227.95,"n":3,"e":3,"u":-8},{"d":227.97,"n":0,"e":4,"u":10},{"d":227.99,"n":2,"e":0,"u":4},
    {"d":228.01,"n":1,"e":1,"u":10},{"d":228.03,"n":-2,"e":-1,"u":-6},{"d":228.05,"n":3,"e":2,"u":12},{"d":228.07,"n":-3,"e":4,"u":2},{"d":228.09,"n":2,"e":-2,"u":-4},
    {"d":228.11,"n":0,"e":3,"u":8},{"d":228.13,"n":4,"e":0,"u":-12},{"d":228.15,"n":-1,"e":1,"u":4},{"d":228.17,"n":-3,"e":-3,"u":-2},{"d":228.19,"n":3,"e":2,"u":10},
    {"d":228.21,"n":1,"e":4,"u":0},{"d":228.23,"n":-4,"e":0,"u":-8},{"d":228.25,"n":2,"e":-1,"u":14},{"d":228.27,"n":4,"e":3,"u":6},{"d":228.29,"n":0,"e":1,"u":-4},
    {"d":228.31,"n":-2,"e":-2,"u":2},{"d":228.33,"n":3,"e":4,"u":-10},{"d":228.35,"n":5,"e":2,"u":8},{"d":228.37,"n":-1,"e":0,"u":0},{"d":228.39,"n":2,"e":3,"u":-6},
    {"d":228.41,"n":-3,"e":-1,"u":12},{"d":228.43,"n":1,"e":1,"u":4},{"d":228.45,"n":4,"e":4,"u":-2},{"d":228.47,"n":-2,"e":-2,"u":10},{"d":228.49,"n":0,"e":2,"u":-8},
    {"d":228.51,"n":3,"e":0,"u":6},{"d":228.53,"n":-1,"e":-3,"u":0},{"d":228.55,"n":5,"e":3,"u":-12},{"d":228.57,"n":2,"e":1,"u":8},{"d":228.59,"n":-3,"e":-1,"u":-4},
    {"d":228.61,"n":1,"e":4,"u":12},{"d":228.63,"n":-1,"e":2,"u":2},{"d":228.65,"n":4,"e":-2,"u":-6},{"d":228.67,"n":-2,"e":1,"u":10},{"d":228.69,"n":3,"e":3,"u":-2},
    {"d":228.71,"n":0,"e":0,"u":6},{"d":228.73,"n":-3,"e":2,"u":-10},{"d":228.75,"n":2,"e":-1,"u":4},{"d":228.77,"n":1,"e":3,"u":12},{"d":228.79,"n":4,"e":-4,"u":-4},
    {"d":228.81,"n":-2,"e":1,"u":0},{"d":228.83,"n":0,"e":2,"u":8},{"d":228.85,"n":3,"e":-2,"u":-6},{"d":228.87,"n":-1,"e":3,"u":2},{"d":228.89,"n":2,"e":0,"u":10},
    {"d":228.91,"n":-4,"e":4,"u":-8},{"d":228.93,"n":1,"e":-1,"u":4},{"d":228.95,"n":3,"e":2,"u":-2},{"d":228.97,"n":-3,"e":-3,"u":6},{"d":228.99,"n":0,"e":1,"u":-10},
    {"d":229.01,"n":0,"e":-1,"u":4},{"d":229.03,"n":4,"e":3,"u":-8},{"d":229.05,"n":-2,"e":1,"u":10},{"d":229.07,"n":2,"e":4,"u":-2},{"d":229.09,"n":-1,"e":2,"u":6},
    {"d":229.11,"n":3,"e":-1,"u":-12},{"d":229.13,"n":1,"e":3,"u":2},{"d":229.15,"n":-3,"e":5,"u":8},{"d":229.17,"n":2,"e":2,"u":-6},{"d":229.19,"n":4,"e":4,"u":12},
    {"d":229.21,"n":0,"e":6,"u":0},{"d":229.23,"n":3,"e":3,"u":-4},{"d":229.25,"n":5,"e":5,"u":10},{"d":229.27,"n":1,"e":2,"u":-8},{"d":229.29,"n":6,"e":7,"u":6},
    {"d":229.31,"n":4,"e":4,"u":16},{"d":229.33,"n":2,"e":6,"u":-2},{"d":229.35,"n":-1,"e":3,"u":4},{"d":229.37,"n":3,"e":1,"u":12},{"d":229.39,"n":-2,"e":5,"u":-10},
    {"d":229.41,"n":0,"e":2,"u":0},{"d":229.43,"n":-4,"e":0,"u":8},{"d":229.45,"n":-6,"e":-1,"u":-6},{"d":229.47,"n":-9,"e":1,"u":14},{"d":229.49,"n":-5,"e":-3,"u":6},
    {"d":229.51,"n":-2,"e":-1,"u":18},{"d":229.53,"n":-4,"e":-6,"u":-4},{"d":229.55,"n":0,"e":-4,"u":-12},{"d":229.57,"n":3,"e":-8,"u":-18},{"d":229.59,"n":-2,"e":-5,"u":-8},
    {"d":229.61,"n":1,"e":-3,"u":4},{"d":229.63,"n":4,"e":0,"u":12},{"d":229.65,"n":-1,"e":2,"u":0},{"d":229.67,"n":3,"e":-1,"u":8},{"d":229.69,"n":2,"e":3,"u":-2},
    {"d":229.71,"n":0,"e":1,"u":-8},{"d":229.73,"n":-2,"e":0,"u":6},{"d":229.75,"n":3,"e":3,"u":10},{"d":229.77,"n":-3,"e":-2,"u":-4},{"d":229.79,"n":1,"e":2,"u":2},
    {"d":229.81,"n":4,"e":1,"u":8},{"d":229.83,"n":-1,"e":4,"u":-6},{"d":229.85,"n":2,"e":-1,"u":12},{"d":229.87,"n":-3,"e":2,"u":0},{"d":229.89,"n":0,"e":0,"u":-10},
    {"d":229.91,"n":3,"e":3,"u":4},{"d":229.93,"n":-1,"e":-2,"u":-2},{"d":229.95,"n":2,"e":1,"u":8},{"d":229.97,"n":-2,"e":2,"u":-6},{"d":229.99,"n":1,"e":0,"u":2},
    {"d":230.01,"n":0,"e":2,"u":-4},{"d":230.03,"n":2,"e":0,"u":8},{"d":230.05,"n":-2,"e":3,"u":-10},{"d":230.07,"n":3,"e":-1,"u":2},{"d":230.09,"n":1,"e":2,"u":6},
    {"d":230.11,"n":-1,"e":4,"u":-2},{"d":230.13,"n":4,"e":0,"u":10},{"d":230.15,"n":-3,"e":2,"u":-14},{"d":230.17,"n":2,"e":-2,"u":4},{"d":230.19,"n":0,"e":3,"u":-6},
    {"d":230.21,"n":-2,"e":1,"u":14},{"d":230.23,"n":3,"e":-1,"u":-2},{"d":230.25,"n":-1,"e":4,"u":8},{"d":230.27,"n":4,"e":2,"u":-8},{"d":230.29,"n":1,"e":0,"u":2},
    {"d":230.31,"n":-3,"e":3,"u":12},{"d":230.33,"n":2,"e":-1,"u":-4},{"d":230.35,"n":-1,"e":1,"u":6},{"d":230.37,"n":3,"e":4,"u":0},{"d":230.39,"n":0,"e":-1,"u":-10},
    {"d":230.41,"n":2,"e":2,"u":16},{"d":230.43,"n":-2,"e":0,"u":6},{"d":230.45,"n":4,"e":3,"u":10},{"d":230.47,"n":1,"e":1,"u":18},{"d":230.49,"n":-4,"e":-3,"u":2},
    {"d":230.51,"n":3,"e":-4,"u":12},{"d":230.53,"n":6,"e":1,"u":20},{"d":230.55,"n":2,"e":3,"u":8},{"d":230.57,"n":5,"e":2,"u":-6},{"d":230.59,"n":0,"e":-1,"u":14},
    {"d":230.61,"n":4,"e":3,"u":2},{"d":230.63,"n":7,"e":0,"u":10},{"d":230.65,"n":3,"e":2,"u":22},{"d":230.67,"n":5,"e":4,"u":16},{"d":230.69,"n":0,"e":1,"u":6},
    {"d":230.71,"n":3,"e":-1,"u":12},{"d":230.73,"n":-2,"e":3,"u":-4},{"d":230.75,"n":2,"e":2,"u":8},{"d":230.77,"n":-1,"e":0,"u":-14},{"d":230.79,"n":3,"e":4,"u":2},
    {"d":230.81,"n":1,"e":-2,"u":-10},{"d":230.83,"n":-3,"e":2,"u":6},{"d":230.85,"n":2,"e":1,"u":12},{"d":230.87,"n":0,"e":3,"u":-4},{"d":230.89,"n":-1,"e":-1,"u":0},
    {"d":230.91,"n":4,"e":4,"u":10},{"d":230.93,"n":-2,"e":2,"u":-6},{"d":230.95,"n":1,"e":3,"u":4},{"d":230.97,"n":3,"e":1,"u":14},{"d":230.99,"n":0,"e":3,"u":8},
    {"d":231.01,"n":1,"e":2,"u":4},{"d":231.03,"n":3,"e":4,"u":-6},{"d":231.05,"n":-2,"e":1,"u":10},{"d":231.07,"n":2,"e":3,"u":0},{"d":231.09,"n":0,"e":-1,"u":-10},
    {"d":231.11,"n":4,"e":2,"u":6},{"d":231.13,"n":-3,"e":5,"u":2},{"d":231.15,"n":1,"e":3,"u":-8},{"d":231.17,"n":3,"e":4,"u":12},{"d":231.19,"n":-1,"e":1,"u":4},
    {"d":231.21,"n":2,"e":3,"u":-4},{"d":231.23,"n":5,"e":6,"u":8},{"d":231.25,"n":-2,"e":2,"u":-2},{"d":231.27,"n":3,"e":4,"u":10},{"d":231.29,"n":0,"e":0,"u":-6},
    {"d":231.31,"n":4,"e":3,"u":0},{"d":231.33,"n":-4,"e":5,"u":14},{"d":231.35,"n":2,"e":1,"u":-10},{"d":231.37,"n":1,"e":4,"u":8},{"d":231.39,"n":-2,"e":2,"u":2},
    {"d":231.41,"n":3,"e":5,"u":-12},{"d":231.43,"n":0,"e":0,"u":12},{"d":231.45,"n":5,"e":3,"u":-4},{"d":231.47,"n":2,"e":6,"u":6},{"d":231.49,"n":-1,"e":2,"u":-8},
    {"d":231.51,"n":4,"e":4,"u":4},{"d":231.53,"n":1,"e":1,"u":10},{"d":231.55,"n":3,"e":3,"u":-2},{"d":231.57,"n":-2,"e":5,"u":6},{"d":231.59,"n":2,"e":2,"u":-12},
    {"d":231.61,"n":4,"e":4,"u":8},{"d":231.63,"n":0,"e":1,"u":0},{"d":231.65,"n":-1,"e":3,"u":-6},{"d":231.67,"n":3,"e":0,"u":12},{"d":231.69,"n":1,"e":2,"u":2},
    {"d":231.71,"n":-3,"e":4,"u":-8},{"d":231.73,"n":2,"e":1,"u":6},{"d":231.75,"n":4,"e":3,"u":10},{"d":231.77,"n":0,"e":-1,"u":-4},{"d":231.79,"n":-2,"e":2,"u":2},
    {"d":231.81,"n":3,"e":0,"u":12},{"d":231.83,"n":1,"e":3,"u":-6},{"d":231.85,"n":-3,"e":1,"u":0},{"d":231.87,"n":2,"e":-2,"u":-10},{"d":231.89,"n":4,"e":2,"u":6},
    {"d":231.91,"n":-1,"e":0,"u":-4},{"d":231.93,"n":2,"e":3,"u":2},{"d":231.95,"n":0,"e":-1,"u":-12},{"d":231.97,"n":3,"e":1,"u":4},{"d":231.99,"n":-2,"e":-2,"u":-2},
    {"d":232.01,"n":-1,"e":1,"u":0},{"d":232.03,"n":2,"e":3,"u":-8},{"d":232.05,"n":-4,"e":-2,"u":4},{"d":232.07,"n":1,"e":0,"u":-12},{"d":232.09,"n":3,"e":2,"u":-4},
    {"d":232.11,"n":-2,"e":-3,"u":-16},{"d":232.13,"n":0,"e":1,"u":2},{"d":232.15,"n":4,"e":3,"u":-6},{"d":232.17,"n":-3,"e":-1,"u":-12},{"d":232.19,"n":1,"e":-3,"u":8},
    {"d":232.21,"n":-5,"e":2,"u":-2},{"d":232.23,"n":2,"e":0,"u":-10},{"d":232.25,"n":0,"e":-2,"u":10},{"d":232.27,"n":3,"e":1,"u":-8},{"d":232.29,"n":-1,"e":-4,"u":-18},
    {"d":232.31,"n":4,"e":-1,"u":-4},{"d":232.33,"n":1,"e":1,"u":-12},{"d":232.35,"n":-3,"e":-2,"u":0},{"d":232.37,"n":3,"e":3,"u":-6},{"d":232.39,"n":0,"e":-1,"u":-16},
    {"d":232.41,"n":2,"e":1,"u":2},{"d":232.43,"n":7,"e":3,"u":-10},{"d":232.45,"n":10,"e":6,"u":-14},{"d":232.47,"n":5,"e":2,"u":-6},{"d":232.49,"n":8,"e":-3,"u":-2},
    {"d":232.51,"n":-4,"e":-5,"u":-16},{"d":232.53,"n":1,"e":-8,"u":-8},{"d":232.55,"n":-6,"e":-3,"u":4},{"d":232.57,"n":6,"e":-11,"u":-10},{"d":232.59,"n":-2,"e":-7,"u":-2},
    {"d":232.61,"n":-7,"e":-4,"u":10},{"d":232.63,"n":4,"e":-10,"u":-6},{"d":232.65,"n":-3,"e":-5,"u":6},{"d":232.67,"n":3,"e":-2,"u":-4},{"d":232.69,"n":0,"e":-6,"u":14},
    {"d":232.71,"n":-2,"e":0,"u":2},{"d":232.73,"n":2,"e":-3,"u":10},{"d":232.75,"n":-3,"e":-1,"u":18},{"d":232.77,"n":4,"e":2,"u":8},{"d":232.79,"n":1,"e":-3,"u":12},
    {"d":232.81,"n":-2,"e":0,"u":4},{"d":232.83,"n":3,"e":3,"u":16},{"d":232.85,"n":0,"e":-1,"u":10},{"d":232.87,"n":-2,"e":2,"u":20},{"d":232.89,"n":2,"e":5,"u":14},
    {"d":232.91,"n":-1,"e":0,"u":24},{"d":232.93,"n":3,"e":3,"u":18},{"d":232.95,"n":0,"e":4,"u":22},{"d":232.97,"n":-3,"e":-2,"u":26},{"d":232.99,"n":1,"e":2,"u":20}
  ]},
  "spacing": 15,
  "vconcat": [
    {
      "width": 810, "height": 160,
      "layer": [
        {"mark": {"type": "circle", "size": 62, "opacity": 1, "color": "#ff0000", "clip": true},
         "encoding": {
           "x": {"field": "d", "type": "quantitative", "scale": {"domain": [223, 233], "nice": false, "zero": false}, "axis": null},
           "y": {"field": "n", "type": "quantitative", "scale": {"domain": [-30, 30], "nice": false}, "axis": {"title": "North [mm]", "values": [-30, -20, -10, 0, 10, 20, 30], "tickSize": -8, "labelPadding": 14, "titlePadding": 12}}
         }},
        {"data": {"values": [{}]}, "mark": {"type": "text", "text": "std ± 2.91 mm", "color": "#ff0000", "align": "left", "baseline": "middle", "fontSize": 14},
         "encoding": {"x": {"datum": 224.0, "type": "quantitative", "axis": null},
                      "y": {"datum": 24, "type": "quantitative", "axis": {"orient": "right", "labels": false, "title": null, "values": [-30, -20, -10, 0, 10, 20, 30], "tickSize": -8}}}},
        {"data": {"values": [{}]}, "mark": {"type": "text", "text": "North", "align": "right", "baseline": "middle", "fontSize": 14},
         "encoding": {"x": {"datum": 232.12, "type": "quantitative", "axis": null}, "y": {"datum": 24, "type": "quantitative", "axis": null}}},
        {"data": {"values": [{}]}, "mark": {"type": "rule", "color": "#ff0000", "opacity": 0.6},
         "encoding": {"x": {"datum": 232.22, "type": "quantitative", "axis": null}, "x2": {"datum": 232.8}, "y": {"datum": 24, "type": "quantitative", "axis": null}}},
        {"data": {"values": [{}]}, "mark": {"type": "rule", "color": "#ff0000", "opacity": 0.6},
         "encoding": {"x": {"datum": 232.22, "type": "quantitative", "axis": null}, "y": {"datum": 22.5, "type": "quantitative", "axis": null}, "y2": {"datum": 25.5}}},
        {"data": {"values": [{}]}, "mark": {"type": "rule", "color": "#ff0000", "opacity": 0.6},
         "encoding": {"x": {"datum": 232.8, "type": "quantitative", "axis": null}, "y": {"datum": 22.5, "type": "quantitative", "axis": null}, "y2": {"datum": 25.5}}},
        {"data": {"values": [{}]}, "mark": {"type": "circle", "size": 35, "opacity": 1, "color": "#ff0000"},
         "encoding": {"x": {"datum": 232.51, "type": "quantitative", "axis": null}, "y": {"datum": 24, "type": "quantitative", "axis": null}}}
      ],
      "resolve": {"axis": {"y": "independent"}}
    },
    {
      "width": 810, "height": 160,
      "layer": [
        {"mark": {"type": "circle", "size": 62, "opacity": 1, "color": "#00c000", "clip": true},
         "encoding": {
           "x": {"field": "d", "type": "quantitative", "scale": {"domain": [223, 233], "nice": false, "zero": false}, "axis": null},
           "y": {"field": "e", "type": "quantitative", "scale": {"domain": [-30, 30], "nice": false}, "axis": {"title": "East [mm]", "values": [-30, -20, -10, 0, 10, 20, 30], "tickSize": -8, "labelPadding": 14, "titlePadding": 12}}
         }},
        {"data": {"values": [{}]}, "mark": {"type": "text", "text": "std ± 2.98 mm", "color": "#00c000", "align": "left", "baseline": "middle", "fontSize": 14},
         "encoding": {"x": {"datum": 224.0, "type": "quantitative", "axis": null},
                      "y": {"datum": 24, "type": "quantitative", "axis": {"orient": "right", "labels": false, "title": null, "values": [-30, -20, -10, 0, 10, 20, 30], "tickSize": -8}}}},
        {"data": {"values": [{}]}, "mark": {"type": "text", "text": "East", "align": "right", "baseline": "middle", "fontSize": 14},
         "encoding": {"x": {"datum": 232.12, "type": "quantitative", "axis": null}, "y": {"datum": 24, "type": "quantitative", "axis": null}}},
        {"data": {"values": [{}]}, "mark": {"type": "rule", "color": "#00c000", "opacity": 0.6},
         "encoding": {"x": {"datum": 232.22, "type": "quantitative", "axis": null}, "x2": {"datum": 232.8}, "y": {"datum": 24, "type": "quantitative", "axis": null}}},
        {"data": {"values": [{}]}, "mark": {"type": "rule", "color": "#00c000", "opacity": 0.6},
         "encoding": {"x": {"datum": 232.22, "type": "quantitative", "axis": null}, "y": {"datum": 22.5, "type": "quantitative", "axis": null}, "y2": {"datum": 25.5}}},
        {"data": {"values": [{}]}, "mark": {"type": "rule", "color": "#00c000", "opacity": 0.6},
         "encoding": {"x": {"datum": 232.8, "type": "quantitative", "axis": null}, "y": {"datum": 22.5, "type": "quantitative", "axis": null}, "y2": {"datum": 25.5}}},
        {"data": {"values": [{}]}, "mark": {"type": "circle", "size": 35, "opacity": 1, "color": "#00c000"},
         "encoding": {"x": {"datum": 232.51, "type": "quantitative", "axis": null}, "y": {"datum": 24, "type": "quantitative", "axis": null}}}
      ],
      "resolve": {"axis": {"y": "independent"}}
    },
    {
      "width": 810, "height": 160,
      "layer": [
        {"mark": {"type": "circle", "size": 62, "opacity": 1, "color": "#0080ff", "clip": true},
         "encoding": {
           "x": {"field": "d", "type": "quantitative", "scale": {"domain": [223, 233], "nice": false, "zero": false}, "axis": {"title": "DOY", "values": [223, 224, 225, 226, 227, 228, 229, 230, 231, 232], "tickSize": -8, "labelPadding": 15, "labelFlush": false, "titlePadding": 6}},
           "y": {"field": "u", "type": "quantitative", "scale": {"domain": [-60, 60], "nice": false}, "axis": {"title": "Up [mm]", "values": [-60, -40, -20, 0, 20, 40, 60], "tickSize": -8, "labelPadding": 14, "titlePadding": 12}}
         }},
        {"data": {"values": [{}]}, "mark": {"type": "text", "text": "std ± 8.07 mm", "color": "#0080ff", "align": "left", "baseline": "middle", "fontSize": 14},
         "encoding": {"x": {"datum": 224.0, "type": "quantitative", "axis": null},
                      "y": {"datum": 48, "type": "quantitative", "axis": {"orient": "right", "labels": false, "title": null, "values": [-60, -40, -20, 0, 20, 40, 60], "tickSize": -8}}}},
        {"data": {"values": [{}]}, "mark": {"type": "text", "text": "Up", "align": "right", "baseline": "middle", "fontSize": 14},
         "encoding": {"x": {"datum": 232.12, "type": "quantitative", "axis": null}, "y": {"datum": 48, "type": "quantitative", "axis": null}}},
        {"data": {"values": [{}]}, "mark": {"type": "rule", "color": "#0080ff", "opacity": 0.6},
         "encoding": {"x": {"datum": 232.22, "type": "quantitative", "axis": null}, "x2": {"datum": 232.8}, "y": {"datum": 48, "type": "quantitative", "axis": null}}},
        {"data": {"values": [{}]}, "mark": {"type": "rule", "color": "#0080ff", "opacity": 0.6},
         "encoding": {"x": {"datum": 232.22, "type": "quantitative", "axis": null}, "y": {"datum": 45, "type": "quantitative", "axis": null}, "y2": {"datum": 51}}},
        {"data": {"values": [{}]}, "mark": {"type": "rule", "color": "#0080ff", "opacity": 0.6},
         "encoding": {"x": {"datum": 232.8, "type": "quantitative", "axis": null}, "y": {"datum": 45, "type": "quantitative", "axis": null}, "y2": {"datum": 51}}},
        {"data": {"values": [{}]}, "mark": {"type": "circle", "size": 35, "opacity": 1, "color": "#0080ff"},
         "encoding": {"x": {"datum": 232.51, "type": "quantitative", "axis": null}, "y": {"datum": 48, "type": "quantitative", "axis": null}}},
        {"data": {"values": [{}]}, "mark": {"type": "text", "text": "22/08/26 23:15", "align": "left", "baseline": "middle", "fontSize": 13, "clip": false},
         "encoding": {"x": {"datum": 222.28, "type": "quantitative", "axis": null}, "y": {"datum": -97.5, "type": "quantitative", "axis": null}}}
      ],
      "resolve": {"axis": {"y": "independent", "x": "independent"}}
    }
  ],
  "config": {
    "font": "Liberation Sans",
    "view": {"stroke": "black", "strokeWidth": 1.5},
    "axis": {"grid": false, "domain": false, "tickColor": "#666666", "tickWidth": 1, "labelFontSize": 13, "labelColor": "black", "titleFontSize": 14, "titleFontWeight": "normal", "titleColor": "black"},
    "text": {"color": "black"}
  }
}
